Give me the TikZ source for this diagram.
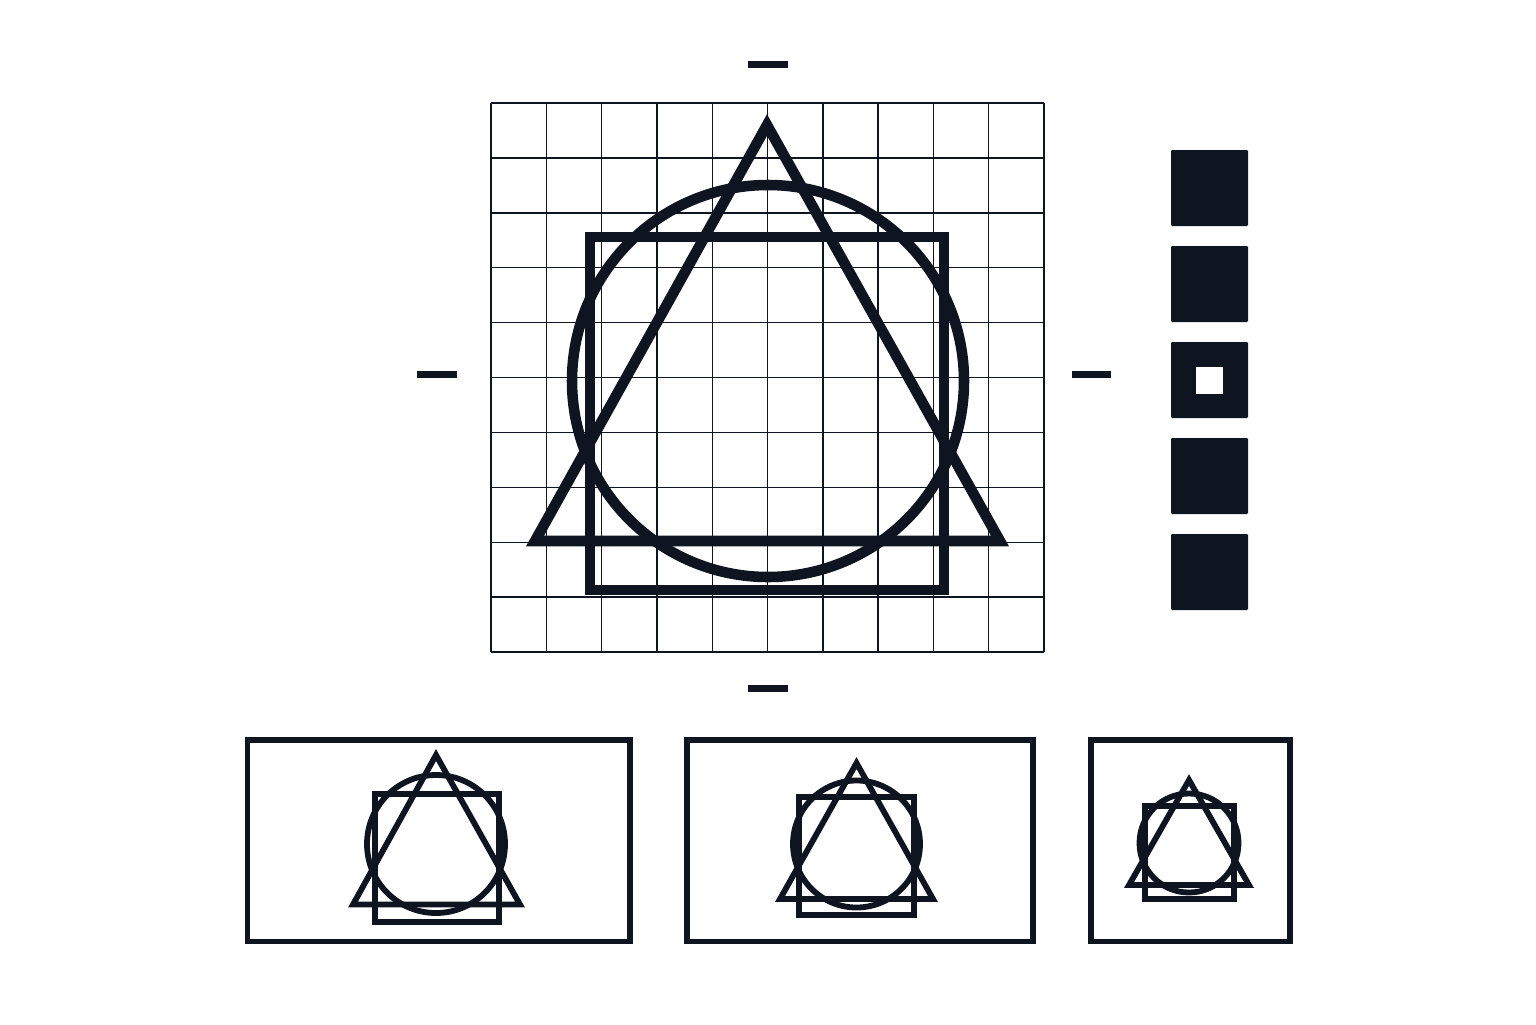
\documentclass[tikz,border=0pt]{standalone}
\usepackage{tikz}

\definecolor{ink}{HTML}{0E1521}

\tikzset{
	gridline/.style={ink, line width=0.8pt},
	bold/.style={ink, line width=6pt, line join=miter},
	thin shape/.style={ink, line width=3.3pt, line join=miter},
	panel/.style={ink, line width=3.1pt},
	tick/.style={fill=ink, draw=none},
	block/.style={fill=ink, draw=none, rounded corners=0.6pt},
}

\begin{document}
\begin{tikzpicture}[x=0.2mm, y=-0.2mm]
	\useasboundingbox (0,0) rectangle (1536,1024);

	% grid
	\foreach \i in {0,...,10} {
		\draw[gridline] ({491+\i*55.3}, 103) -- ({491+\i*55.3}, 652);
		\draw[gridline] (491, {103+\i*54.9}) -- (1044, {103+\i*54.9});
	}

	% main figure
	\draw[bold] (767,125) -- (535,541) -- (1000,541) -- cycle;
	\draw[bold] (768,381) circle (196);
	\draw[bold] (590,237) rectangle (944,590);

	% ticks
	\fill[tick] (748,61) rectangle (788,68);
	\fill[tick] (748,685) rectangle (788,692);
	\fill[tick] (417,371) rectangle (457,378);
	\fill[tick] (1072,371) rectangle (1111,378);

	% blocks
	\foreach \y in {150,246,342,438,534}
		\fill[block] (1171,\y) rectangle (1248,{\y+76});
	\fill[white] (1196,367) rectangle (1223,394);

	% panels
	\draw[panel] (247.5,740) rectangle (630,941.5);
	\draw[thin shape] (436,755) -- (353,904.5) -- (520,904.5) -- cycle;
	\draw[thin shape] (436,844) circle (69);
	\draw[thin shape] (375,794) rectangle (499,922);

	\draw[panel] (687,740) rectangle (1033,941.5);
	\draw[thin shape] (856.5,763) -- (780,899) -- (933,899) -- cycle;
	\draw[thin shape] (856.5,844) circle (63.5);
	\draw[thin shape] (799,797) rectangle (914,915);

	\draw[panel] (1091,740) rectangle (1290,941.5);
	\draw[thin shape] (1189,780) -- (1129,885) -- (1249,885) -- cycle;
	\draw[thin shape] (1189,843) circle (49.5);
	\draw[thin shape] (1145,806) rectangle (1234,899);
\end{tikzpicture}
\end{document}
